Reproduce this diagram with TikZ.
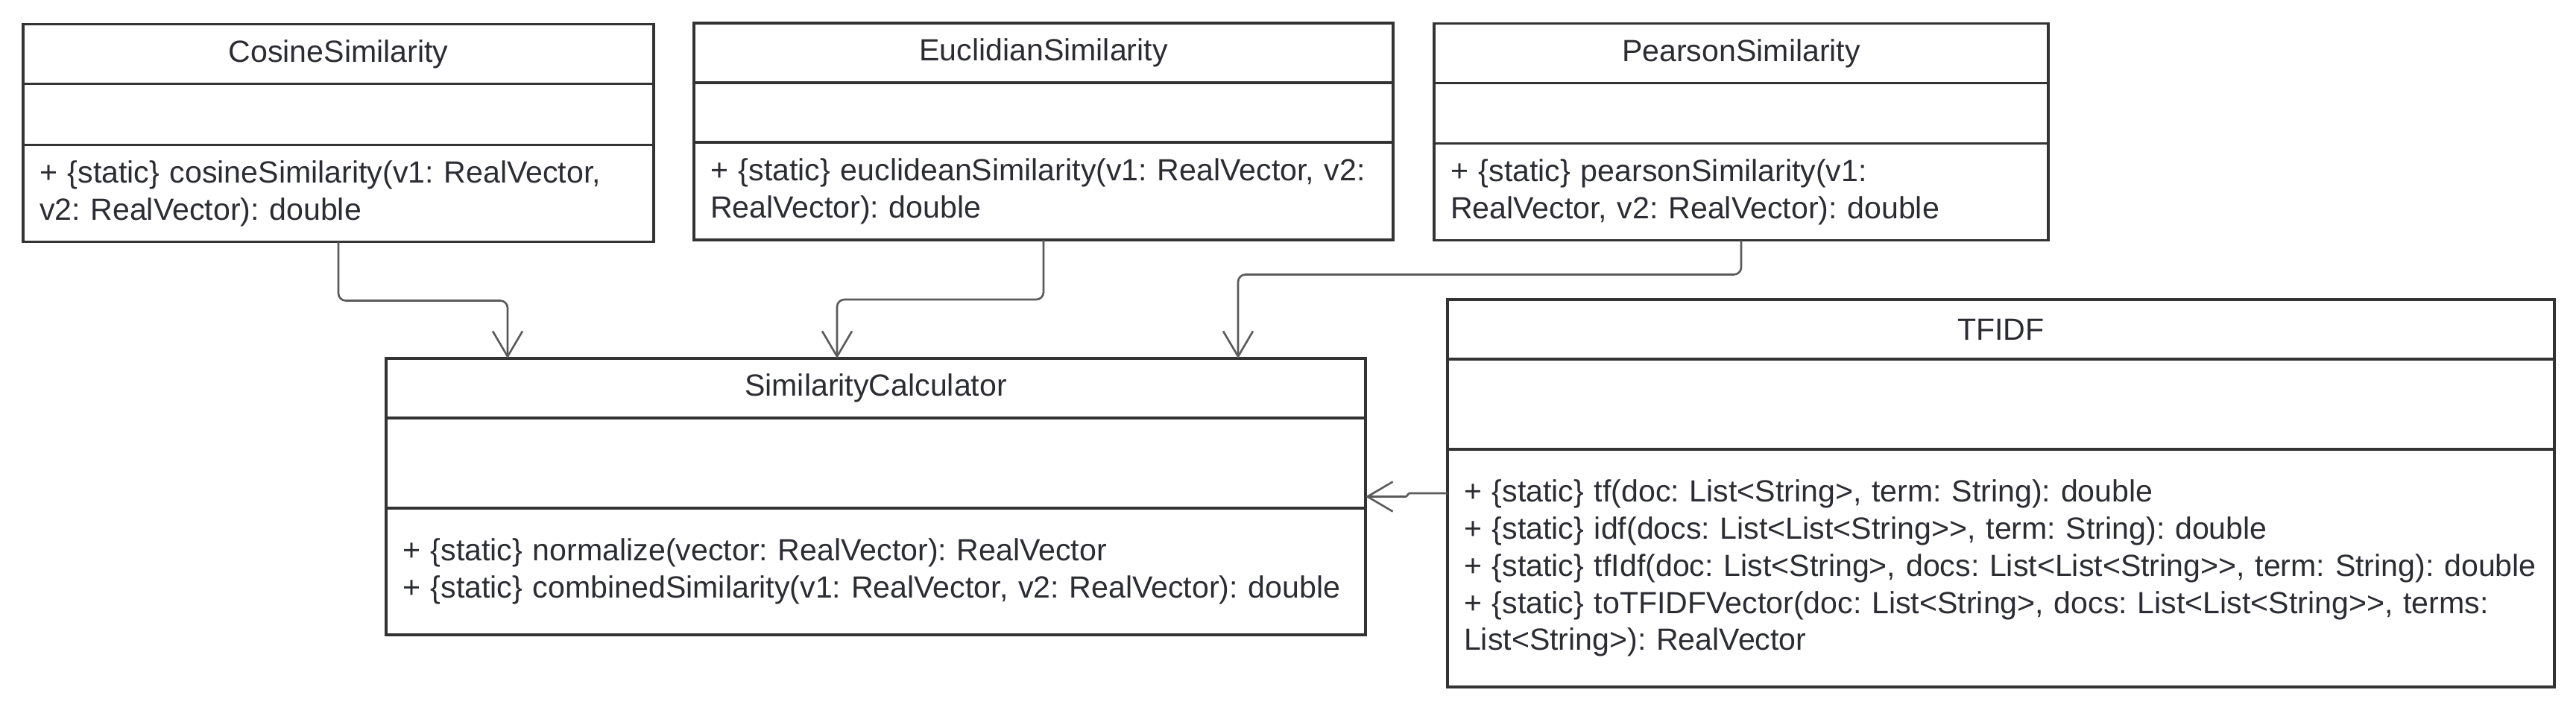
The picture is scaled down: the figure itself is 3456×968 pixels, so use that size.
\documentclass[tikz,border=0pt]{standalone}
\usepackage{fontspec}
\setmainfont{Liberation Sans}
\usepackage{xcolor}
\usepackage{tikz}
\usetikzlibrary{positioning, fit, calc, arrows.meta}
\definecolor{umlline}{HTML}{333333}
\definecolor{umltext}{HTML}{2B2D33}
\definecolor{depline}{HTML}{5A5A5A}
\newcommand{\umlfont}{\fontsize{11.7}{14.2}\selectfont\frenchspacing\hyphenpenalty=10000\relax}
\tikzset{
  >={Straight Barb[length=3.4mm, width=4.0mm]},
  clshead/.style={
    draw=umlline, line width=0.95pt, rectangle, outer sep=0pt,
    minimum height=8mm, inner sep=0pt, fill=white,
    font=\umlfont, text=umltext
  },
  clsattr/.style={
    draw=umlline, line width=0.95pt, rectangle, outer sep=0pt,
    inner sep=0pt, fill=white
  },
  clsops/.style={
    draw=umlline, line width=0.95pt, rectangle, outer sep=0pt,
    inner xsep=2.2mm, inner ysep=0pt, align=left, fill=white,
    font=\umlfont, text=umltext
  },
  clsbox/.style={inner sep=0pt, outer sep=0pt},
  dep/.style={
    ->, line width=0.75pt, draw=depline, line join=round,
    rounded corners=2.8pt
  },
}

\begin{document}
\begin{tikzpicture}[x=0.1mm, y=-0.1mm]
\useasboundingbox (0,0) rectangle (3456,968);

% ---- Classes, top row ----------------------------------------------
\node[clshead, minimum width=84.6mm] (coshead) at (454, 72.5) {CosineSimilarity};
\node[clsattr, minimum width=84.6mm, minimum height=8.2mm, below=0pt of coshead] (cosattr) {};
\node[clsops, text width=80.2mm, minimum height=13.0mm, below=0pt of cosattr] (cosops)
  {+ \{static\} cosineSimilarity(v1: RealVector,\\v2: RealVector): double};

\node[clshead, minimum width=93.8mm] (euchead) at (1400, 71) {EuclidianSimilarity};
\node[clsattr, minimum width=93.8mm, minimum height=8.0mm, below=0pt of euchead] (eucattr) {};
\node[clsops, text width=89.4mm, minimum height=13.1mm, below=0pt of eucattr] (eucops)
  {+ \{static\} euclideanSimilarity(v1: RealVector, v2:\\RealVector): double};

\node[clshead, minimum width=82.4mm] (pearhead) at (2336, 71.5) {PearsonSimilarity};
\node[clsattr, minimum width=82.4mm, minimum height=8.1mm, below=0pt of pearhead] (pearattr) {};
\node[clsops, text width=78.0mm, minimum height=13.0mm, below=0pt of pearattr] (pearops)
  {+ \{static\} pearsonSimilarity(v1:\\RealVector, v2: RealVector): double};

% ---- Classes, bottom row -------------------------------------------
\node[clshead, minimum width=131.4mm] (simhead) at (1175, 521) {SimilarityCalculator};
\node[clsattr, minimum width=131.4mm, minimum height=12.1mm, below=0pt of simhead] (simattr) {};
\node[clsops, text width=127.0mm, minimum height=17.0mm, below=0pt of simattr] (simops)
  {+ \{static\} normalize(vector: RealVector): RealVector\\
   + \{static\} combinedSimilarity(v1: RealVector, v2: RealVector): double};

\node[clshead, minimum width=148.5mm] (tfhead) at (2684.5, 442) {TFIDF};
\node[clsattr, minimum width=148.5mm, minimum height=12.1mm, below=0pt of tfhead] (tfattr) {};
\node[clsops, text width=144.1mm, minimum height=31.9mm, below=0pt of tfattr] (tfops)
  {+ \{static\} tf(doc: List<String>, term: String): double\\
   + \{static\} idf(docs: List<List<String>{}>, term: String): double\\
   + \{static\} tfIdf(doc: List<String>, docs: List<List<String>{}>, term: String): double\\
   + \{static\} toTFIDFVector(doc: List<String>, docs: List<List<String>{}>, terms:\\
   List<String>): RealVector};

% whole class boxes
\node[clsbox, fit=(coshead)(cosops)]   (cosine)  {};
\node[clsbox, fit=(euchead)(eucops)]   (euclid)  {};
\node[clsbox, fit=(pearhead)(pearops)] (pearson) {};
\node[clsbox, fit=(simhead)(simops)]   (simcalc) {};
\node[clsbox, fit=(tfhead)(tfops)]     (tfidf)   {};

% ---- Dependencies ----------------------------------------------------
\coordinate (cos_in)  at ($(simcalc.north west) + (163,0)$);
\coordinate (euc_in)  at ($(simcalc.north west) + (605,0)$);
\coordinate (pear_in) at ($(simcalc.north west) + (1143,0)$);
\coordinate (tf_jogA) at ($(tfidf.west)   + (-53,0)$);
\coordinate (tf_jogB) at ($(simcalc.east) + (56,0)$);

\draw[dep] (cosine.south)  -- ++(0,79) -| (cos_in);
\draw[dep] (euclid.south)  -- ++(0,80) -| (euc_in);
\draw[dep] (pearson.south) -- ++(0,46) -| (pear_in);
\draw[dep, rounded corners=0.5pt] (tfidf.west) -- (tf_jogA) -- (tf_jogB) -- (simcalc.east);

\end{tikzpicture}
\end{document}
